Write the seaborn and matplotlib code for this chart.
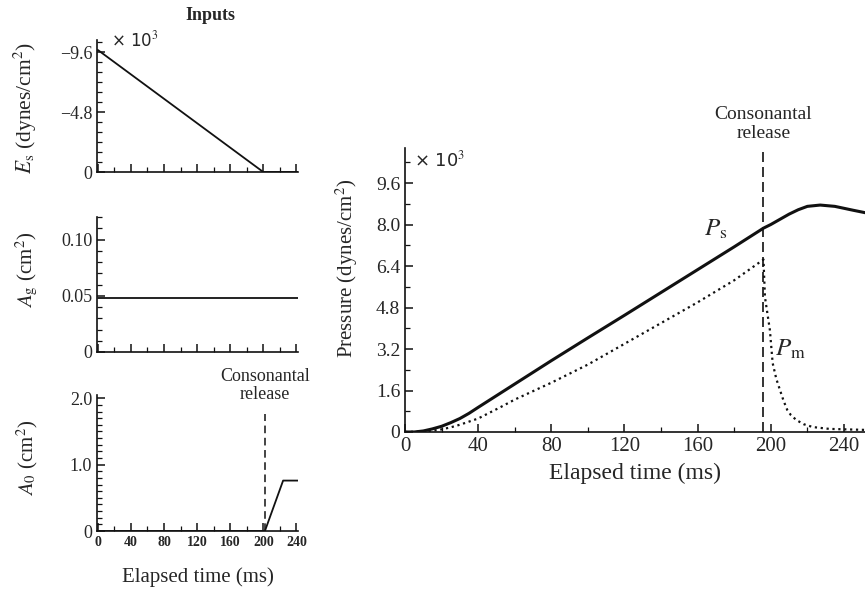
import numpy as np
import pandas as pd
import matplotlib
matplotlib.use("Agg")
import matplotlib.pyplot as plt
from matplotlib.ticker import MultipleLocator
import seaborn as sns

# ---------------- data ----------------
# Inputs (left panels)
es_time = [0, 200, 242]
es_vals = [-9.8, 0.0, 0.0]            # x 10^3 dynes/cm^2

ag_time = [0, 242]
ag_vals = [0.048, 0.048]              # cm^2

a0_time = [0, 202, 224, 242]
a0_vals = [0.0, 0.0, 0.76, 0.76]      # cm^2

left_release = 202
right_release = 196

# Pressures (right panel)
ps_time = [0, 5, 10, 15, 20, 25, 30, 35, 40, 50, 60, 70, 80, 100, 120, 140,
           160, 180, 196, 200, 205, 210, 215, 220, 227, 235, 245, 252]
ps_vals = [0.0, 0.0, 0.04, 0.12, 0.22, 0.36, 0.52, 0.72, 0.95, 1.4, 1.85,
           2.3, 2.75, 3.63, 4.5, 5.38, 6.26, 7.14, 7.86, 8.0, 8.2, 8.4, 8.57,
           8.7, 8.75, 8.7, 8.55, 8.45]

pm_time = [0, 10, 15, 20, 25, 30, 40, 52, 60, 80, 100, 120, 140, 160, 180,
           196, 196.8, 199.5, 201, 203, 205, 207, 209, 211, 214, 218, 223,
           232, 252]
pm_vals = [0.0, 0.02, 0.05, 0.1, 0.18, 0.28, 0.52, 0.95, 1.25, 1.9, 2.6,
           3.4, 4.2, 5.0, 5.85, 6.65, 5.2, 3.93, 2.66, 2.05, 1.62, 1.2, 0.85,
           0.65, 0.46, 0.3, 0.19, 0.12, 0.08]

left_xticks = [0, 40, 80, 120, 160, 200, 240]
es_yticks = [-9.6, -4.8, 0]
es_ylabels = ["\u22129.6", "\u22124.8", "0"]
ag_yticks = [0, 0.05, 0.10]
ag_ylabels = ["0", "0.05", "0.10"]
a0_yticks = [0, 1.0, 2.0]
a0_ylabels = ["0", "1.0", "2.0"]
p_xticks = [0, 40, 80, 120, 160, 200, 240]
p_yticks = [0, 1.6, 3.2, 4.8, 6.4, 8.0, 9.6]
p_ylabels = ["0", "1.6", "3.2", "4.8", "6.4", "8.0", "9.6"]

# ---------------- style ----------------
sns.set_style("ticks")
plt.rcParams["font.family"] = ["Liberation Serif", "DejaVu Serif"]
plt.rcParams["mathtext.fontset"] = "stix"
plt.rcParams["axes.linewidth"] = 1.2
plt.rcParams["xtick.direction"] = "in"
plt.rcParams["ytick.direction"] = "in"

W, H = 865, 590
fig = plt.figure(figsize=(W / 100, H / 100), dpi=100)


def ax_px(left, top, right, bottom):
    return fig.add_axes([left / W, 1 - bottom / H, (right - left) / W, (bottom - top) / H])


ink = "#111111"


def style_axis(ax):
    sns.despine(ax=ax)
    for s in ("left", "bottom"):
        ax.spines[s].set_color(ink)
    ax.tick_params(which="major", length=6, width=1.1, color=ink)
    ax.tick_params(which="minor", length=3.5, width=0.9, color=ink)


# ---- Es panel ----
ax1 = ax_px(97, 40, 298, 172)
sns.lineplot(x=es_time, y=es_vals, ax=ax1, color=ink, lw=1.3)
ax1.set_xlim(-1, 242)
ax1.set_ylim(0, -10.6)
ax1.set_yticks(es_yticks)
ax1.set_yticklabels(es_ylabels, fontsize=13)
ax1.yaxis.set_minor_locator(MultipleLocator(0.8))
ax1.set_xticks(left_xticks)
ax1.set_xticklabels([])
ax1.xaxis.set_minor_locator(MultipleLocator(20))
style_axis(ax1)
ax1.text(0.07, 1.0, "\u00d7 10$^3$", transform=ax1.transAxes, fontsize=12,
         family="DejaVu Sans", va="center", ha="left")
fig.text(210 / W, 1 - 16 / H, "Inputs", fontsize=13, ha="center", va="center",
         fontweight="bold")
fig.text(25 / W, 1 - 108 / H, r"$E_\mathrm{s}$ (dynes/cm$^2$)", rotation=90,
         fontsize=15.5, ha="center", va="center")

# ---- Ag panel ----
ax2 = ax_px(97, 217, 298, 352)
sns.lineplot(x=ag_time, y=ag_vals, ax=ax2, color=ink, lw=1.3)
ax2.set_xlim(-1, 242)
ax2.set_ylim(0, 0.12)
ax2.set_yticks(ag_yticks)
ax2.set_yticklabels(ag_ylabels, fontsize=13)
ax2.yaxis.set_minor_locator(MultipleLocator(0.01))
ax2.set_xticks(left_xticks)
ax2.set_xticklabels([])
ax2.xaxis.set_minor_locator(MultipleLocator(20))
style_axis(ax2)
fig.text(27 / W, 1 - 270 / H, r"$A_\mathrm{g}$ (cm$^2$)", rotation=90,
         fontsize=15, ha="center", va="center")

# ---- A0 panel ----
ax3 = ax_px(97, 395, 298, 531)
sns.lineplot(x=a0_time, y=a0_vals, ax=ax3, color=ink, lw=1.3)
ax3.axvline(left_release, ymin=0, ymax=0.86, color=ink, lw=1.1, dashes=(5, 3))
ax3.set_xlim(-1, 242)
ax3.set_ylim(0, 2.05)
ax3.set_yticks(a0_yticks)
ax3.set_yticklabels(a0_ylabels, fontsize=13)
ax3.yaxis.set_minor_locator(MultipleLocator(0.1))
ax3.set_xticks(left_xticks)
ax3.set_xticklabels([str(v) for v in left_xticks], fontsize=10, fontweight="bold")
ax3.xaxis.set_minor_locator(MultipleLocator(20))
style_axis(ax3)
ax3.set_xlabel("Elapsed time (ms)", fontsize=15, labelpad=13)
ax3.text(left_release, 1.93, "Consonantal\nrelease", fontsize=13, ha="center",
         va="bottom", linespacing=1.05)
fig.text(27 / W, 1 - 458 / H, r"$A_\mathrm{0}$ (cm$^2$)", rotation=90,
         fontsize=15, ha="center", va="center")

# ---- Pressure panel ----
ax4 = ax_px(405, 148, 865, 432)
sns.lineplot(x=ps_time, y=ps_vals, ax=ax4, color=ink, lw=2.2)
sns.lineplot(x=pm_time, y=pm_vals, ax=ax4, color=ink, lw=1.6, linestyle=":")
ax4.axvline(right_release, ymin=0, ymax=0.985, color=ink, lw=1.2, dashes=(6, 3))
ax4.set_xlim(0, 251.5)
ax4.set_ylim(0, 10.95)
ax4.set_yticks(p_yticks)
ax4.set_yticklabels(p_ylabels, fontsize=14)
ax4.yaxis.set_minor_locator(MultipleLocator(0.8))
ax4.set_xticks(p_xticks)
ax4.set_xticklabels([str(v) for v in p_xticks], fontsize=15)
ax4.xaxis.set_minor_locator(MultipleLocator(20))
style_axis(ax4)
ax4.set_xlabel("Elapsed time (ms)", fontsize=17, labelpad=5)
ax4.text(right_release, 11.2, "Consonantal\nrelease", fontsize=14, ha="center",
         va="bottom", linespacing=1.1)
ax4.text(0.02, 0.955, "\u00d7 10$^3$", transform=ax4.transAxes, fontsize=13,
         family="DejaVu Sans", va="center", ha="left")
ax4.text(170, 7.8, r"$P_\mathrm{s}$", fontsize=18, ha="center", va="center")
ax4.text(211, 3.2, r"$P_\mathrm{m}$", fontsize=18, ha="center", va="center")
fig.text(347 / W, 1 - 268 / H, "Pressure (dynes/cm$^2$)", rotation=90,
         fontsize=15, ha="center", va="center")

fig.savefig("out.png", dpi=100, facecolor="white")
